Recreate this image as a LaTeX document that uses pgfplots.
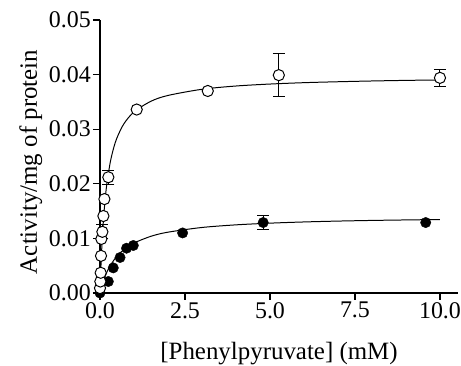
\documentclass[border=0pt]{standalone}
\usepackage{pgfplots}
\pgfplotsset{compat=1.18}
\usepackage{fontspec}
\setmainfont{Liberation Serif}
\begin{document}
\begin{tikzpicture}
\begin{axis}[
  name=ax,
  scale only axis,
  width=358bp, height=273bp,
  xmin=0, xmax=10.53, ymin=0, ymax=0.05,
  axis lines*=left,
  axis line style={line width=1.2pt},
  every tick/.style={line width=1.2pt, black},
  tick align=outside,
  major tick length=7bp,
  xtick={0,2.5,5,7.5,10},
  ytick={0,0.01,0.02,0.03,0.04,0.05},
  scaled y ticks=false,
  /pgf/number format/assume math mode=true,
  xticklabel style={/pgf/number format/.cd, fixed, fixed zerofill, precision=1},
  yticklabel style={/pgf/number format/.cd, fixed, fixed zerofill, precision=2},
  tick label style={font=\fontsize{24}{26}\selectfont, inner sep=2bp},
  label style={font=\fontsize{25}{27}\selectfont},
  xlabel={[Phenylpyruvate] (mM)},
  ylabel={Activity/mg of protein},
  xlabel style={at={(axis description cs:0.5,-0.2418)}, anchor=base},
  ylabel style={at={(axis description cs:-0.176,0.48)}, anchor=base},
  clip=false,
]
% fitted curves
\addplot[black, line width=1pt, smooth] coordinates {
 (0,0) (0.02,0.00362) (0.05,0.00796) (0.1,0.01327) (0.15,0.01706) (0.2,0.0199)
 (0.3,0.02388) (0.4,0.02653) (0.5,0.02843) (0.7,0.03096) (1.0,0.03317)
 (1.5,0.03512) (2,0.03618) (3,0.03731) (4,0.03791) (5,0.03827) (6,0.03852)
 (7,0.03869) (8,0.03883) (9,0.03894) (10,0.03902)};
\addplot[black, line width=1pt, smooth] coordinates {
 (0,0) (0.05,0.00118) (0.1,0.00219) (0.2,0.00379) (0.3,0.00501) (0.5,0.00676)
 (0.75,0.00819) (1.0,0.00916) (1.5,0.01039) (2,0.01114) (3,0.0120) (4,0.01248)
 (5,0.01279) (6,0.01301) (7,0.01317) (8,0.01329) (9,0.01338) (10,0.01346)};
% filled circles
\addplot[only marks, mark=*, mark size=5.2bp, mark options={fill=black, draw=black},
  error bars/.cd, y dir=both, y explicit,
  error bar style={line width=1pt, black},
  error mark options={rotate=90, mark size=6bp, line width=1pt, black}]
 coordinates {
 (0,0) (0.245,0.0021) (0.39,0.0046) (0.59,0.0065) (0.78,0.0082) (0.98,0.0087)
 (2.43,0.0110) (4.80,0.0129) +- (0,0.0013) (9.58,0.0129)};
% open circles
\addplot[only marks, mark=*, mark size=5.6bp, mark options={fill=white, draw=black, line width=1pt},
  error bars/.cd, y dir=both, y explicit,
  error bar style={line width=1pt, black},
  error mark options={rotate=90, mark size=6bp, line width=1pt, black}]
 coordinates {
 (0,0.0009) (0.01,0.0021) (0.02,0.0037) (0.03,0.0068) (0.04,0.0099)
 (0.07,0.0112) +- (0,0.0013) (0.10,0.0141) (0.13,0.0172)
 (0.245,0.0212) +- (0,0.0013) (1.08,0.0336) (3.17,0.0370)
 (5.26,0.0399) +- (0,0.0040) (10.0,0.0394) +- (0,0.0015)};
\end{axis}
\pgfresetboundingbox
\path ([shift={(-100bp,-73bp)}]ax.south west) rectangle ([shift={(3bp,20bp)}]ax.north east);
\end{tikzpicture}
\end{document}
